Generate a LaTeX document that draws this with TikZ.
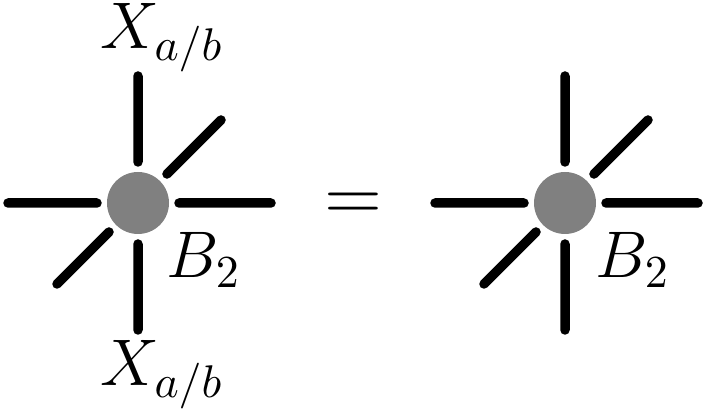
\documentclass[tikz,border=0pt]{standalone}
\usetikzlibrary{positioning}

\begin{document}
\begin{tikzpicture}[x=1pt,y=1pt,
    blob/.style={circle,fill=gray,inner sep=0pt,minimum size=62pt,outer sep=10pt},
    leg/.style={line width=9.5pt,line cap=round},
    big/.style={font=\Large,scale=4.58,inner sep=0pt,anchor=base west}]
  \useasboundingbox (0,0) rectangle (705,415);
  % the two vertices
  \foreach \v/\x in {L/138,R/565} {
    \node[blob] (\v) at (\x,212) {};
    \coordinate (\v-w)  at (\x-130,212);
    \coordinate (\v-e)  at (\x+133,212);
    \coordinate (\v-n)  at (\x,339);
    \coordinate (\v-s)  at (\x,85);
    \coordinate (\v-ne) at (\x+83,295);
    \coordinate (\v-sw) at (\x-81,131);
    \draw[leg] (\v) -- (\v-w)  (\v) -- (\v-e)
               (\v) -- (\v-n)  (\v) -- (\v-s)
               (\v) -- (\v-ne) (\v) -- (\v-sw);
  }
  \node[big] (XT) at (100,366) {$X_{a/b}$};
  \node[big] (XB) at (100,29)  {$X_{a/b}$};
  \node[big] (BL) at (166,137) {$B_2$};
  \node[big] (BR) at (595,137) {$B_2$};
  \node[font=\Large,scale=5.28,inner sep=0pt,anchor=base] (eq) at (353,194) {$=$};
\end{tikzpicture}
\end{document}
